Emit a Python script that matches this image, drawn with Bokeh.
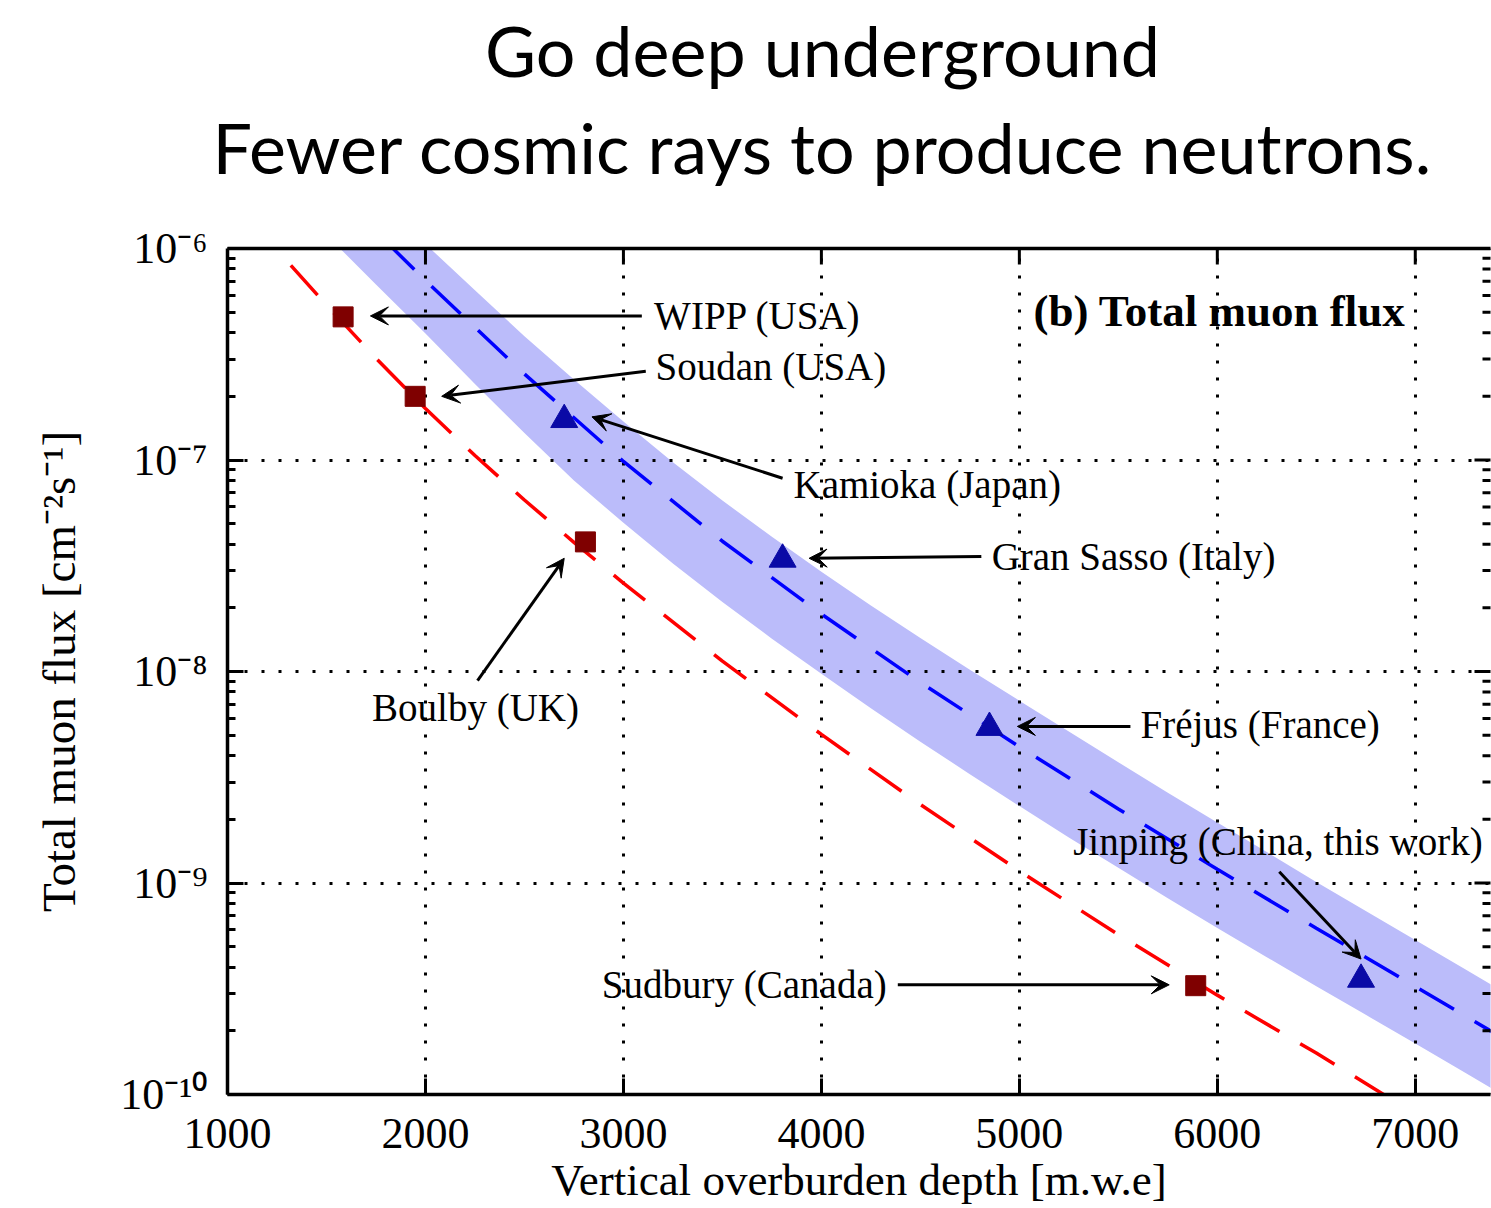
import numpy as np
from bokeh.plotting import figure
from bokeh.layouts import column
from bokeh.models import FixedTicker, LinearAxis, Arrow, VeeHead, Label
from bokeh.embed import file_html
from bokeh.resources import INLINE

# ---------------- data ----------------
# measured sites (red squares)
red_sites = ["WIPP (USA)", "Soudan (USA)", "Boulby (UK)", "Sudbury (Canada)"]
red_depth = [1584, 1948, 2808, 5891]
red_flux = [4.75e-7, 2.0e-7, 4.1e-8, 3.27e-10]

# measured sites (blue triangles)
blue_sites = ["Kamioka (Japan)", "Gran Sasso (Italy)", "Fréjus (France)", "Jinping (China, this work)"]
blue_depth = [2701, 3804, 4849, 6726]
blue_flux = [1.55e-7, 3.39e-8, 5.43e-9, 3.5e-10]

# red dashed curve
red_curve_depth = [1320, 1500, 1750, 2000, 2250, 2500, 2750, 3000, 3500, 4000, 4500, 5000,
                   5500, 6000, 6500, 6840]
red_curve_flux = [8.32e-7, 5.4e-7, 3.03e-7, 1.75e-7, 1.05e-7, 6.47e-8, 4.08e-8, 2.62e-8, 1.12e-8,
                  5.04e-9, 2.35e-9, 1.14e-9, 5.7e-10, 2.95e-10, 1.57e-10, 1.0e-10]

# blue dashed curve
blue_curve_depth = [1800, 2000, 2500, 3000, 3500, 4000, 4500, 5000, 5500, 6000, 6500, 7000, 7400]
blue_curve_flux = [1.08e-6, 7.05e-7, 2.55e-7, 9.84e-8, 4.13e-8, 1.87e-8, 8.87e-9, 4.41e-9,
                   2.24e-9, 1.16e-9, 6.11e-10, 3.24e-10, 1.95e-10]

# shaded band around the blue curve
band_depth = [1500, 1750, 2000, 2250, 2500, 2750, 3000, 3250, 3500, 3750, 4000, 4250, 4500,
              4750, 5000, 5250, 5500, 5750, 6000, 6250, 6500, 6750, 7000, 7250, 7400]
band_upper = [3.08e-6, 1.79e-6, 1.05e-6, 6.34e-7, 3.85e-7, 2.40e-7, 1.52e-7, 9.77e-8, 6.43e-8,
              4.34e-8, 2.96e-8, 2.05e-8, 1.44e-8, 1.02e-8, 7.28e-9, 5.20e-9, 3.72e-9, 2.67e-9,
              1.93e-9, 1.40e-9, 1.01e-9, 7.38e-10, 5.37e-10, 3.92e-10, 3.24e-10]
band_lower = [1.16e-6, 6.75e-7, 3.96e-7, 2.29e-7, 1.34e-7, 8.0e-8, 5.05e-8, 3.24e-8, 2.13e-8,
              1.43e-8, 9.75e-9, 6.71e-9, 4.66e-9, 3.27e-9, 2.31e-9, 1.64e-9, 1.18e-9, 8.47e-10,
              6.12e-10, 4.46e-10, 3.25e-10, 2.38e-10, 1.74e-10, 1.27e-10, 1.05e-10]

# annotation texts and arrows (label anchor, arrow start -> arrow tip)
ann_text = ["WIPP (USA)", "Soudan (USA)", "Kamioka (Japan)", "Gran Sasso (Italy)",
            "Fréjus (France)", "Jinping (China, this work)", "Sudbury (Canada)", "Boulby (UK)"]
ann_x = [3155, 3162, 3859, 4860, 5612, 5272, 4330, 2253]
ann_y = [4.8e-7, 2.77e-7, 7.66e-8, 3.5e-8, 5.6e-9, 1.57e-9, 3.3e-10, 6.76e-9]
ann_align = ["left", "left", "left", "left", "left", "left", "right", "center"]
arrow_x0 = [3093, 3113, 3804, 4808, 5561, 6313, 4386, 2263]
arrow_y0 = [4.8e-7, 2.63e-7, 8.2e-8, 3.5e-8, 5.5e-9, 1.13e-9, 3.3e-10, 9.06e-9]
arrow_x1 = [1722, 2082, 2841, 3938, 4990, 6726, 5757, 2701]
arrow_y1 = [4.8e-7, 2.0e-7, 1.6e-7, 3.43e-8, 5.5e-9, 4.37e-10, 3.3e-10, 3.43e-8]

x_start, x_end = 1000, 7380
y_start, y_end = 1e-10, 1e-6
x_ticks = [1000, 2000, 3000, 4000, 5000, 6000, 7000]
y_ticks = [1e-10, 1e-9, 1e-8, 1e-7, 1e-6]
y_tick_labels = ["10⁻¹⁰", "10⁻⁹", "10⁻⁸", "10⁻⁷", "10⁻⁶"]
y_minor = [m * t for t in [1e-10, 1e-9, 1e-8, 1e-7] for m in range(2, 10)]

title_lines = ["Go deep underground", "Fewer cosmic rays to produce neutrons."]

SERIF = "Liberation Serif"

# ---------------- heading ----------------
head = figure(width=1491, height=208, x_range=(0, 1491), y_range=(0, 208),
              output_backend="svg", toolbar_location=None, min_border=0,
              x_axis_location=None, y_axis_location=None, frame_align=False)
head.outline_line_color = None
head.xgrid.visible = False
head.ygrid.visible = False
for txt, yy in zip(title_lines, [159, 62]):
    head.add_layout(Label(x=822, y=yy, text=txt, text_align="center", text_baseline="alphabetic",
                          text_font="Lato", text_font_size="70px", text_color="black"))

# ---------------- main chart ----------------
p = figure(width=1491, height=1000, x_range=(x_start, x_end), y_range=(y_start, y_end),
           y_axis_type="log", output_backend="svg", toolbar_location=None, frame_align=False,
           min_border_left=227, min_border_right=1, min_border_top=40, min_border_bottom=114)
p.outline_line_color = None
p.background_fill_color = "white"

band = p.varea(x=band_depth, y1=band_lower, y2=band_upper, fill_color="#bbbcfa", fill_alpha=1.0)
band.level = "underlay"

p.line(red_curve_depth, red_curve_flux, line_color="#ff0000", line_width=3.5, line_dash="40 24")
p.line(blue_curve_depth, blue_curve_flux, line_color="#0000ff", line_width=3.5, line_dash="40 24")

p.scatter(red_depth, red_flux, marker="square", size=20, fill_color="#7f0000", line_color="#7f0000")
p.scatter(blue_depth, blue_flux, marker="triangle", size=27, fill_color="#0a0aa6", line_color="#0a0aa6")

xt = FixedTicker(ticks=x_ticks)
yt = FixedTicker(ticks=y_ticks, minor_ticks=y_minor)
for ax in (p.xaxis[0], p.yaxis[0]):
    ax.axis_line_width = 3.5
    ax.major_tick_line_width = 3
    ax.minor_tick_line_width = 3
    ax.major_tick_in = 16
    ax.major_tick_out = 0
    ax.minor_tick_in = 8
    ax.minor_tick_out = 0
    ax.major_label_text_font = SERIF
    ax.major_label_text_font_size = "44px"
    ax.major_label_text_color = "black"
    ax.axis_label_text_font = SERIF
    ax.axis_label_text_font_style = "normal"
    ax.axis_label_text_color = "black"
p.xaxis.axis_label_text_font_size = "45px"
p.yaxis.axis_label_text_font_size = "47px"
p.xaxis.ticker = xt
p.xaxis.minor_tick_line_color = None
p.yaxis.ticker = yt
p.yaxis.major_label_overrides = dict(zip(y_ticks, y_tick_labels))
p.xaxis.axis_label = "Vertical overburden depth [m.w.e]"
p.yaxis.axis_label = "Total muon flux [cm⁻²s⁻¹]"
p.xaxis.major_label_standoff = 24
p.xaxis.axis_label_standoff = 4
p.yaxis.major_label_standoff = 20
p.yaxis.axis_label_standoff = 32

# top border line and inward ticks on top / right sides
top = LinearAxis(ticker=FixedTicker(ticks=[]), axis_line_width=3.5, major_tick_line_color=None,
                 minor_tick_line_color=None)
p.add_layout(top, "above")
p.scatter(x_ticks, [y_end] * len(x_ticks), marker="dash", angle=np.pi / 2, size=32,
          line_color="black", line_width=3)
p.scatter([x_end] * len(y_ticks), y_ticks, marker="dash", size=32, line_color="black", line_width=3)
p.scatter([x_end] * len(y_minor), y_minor, marker="dash", size=16, line_color="black", line_width=3)

for g in (p.xgrid[0], p.ygrid[0]):
    g.grid_line_color = "black"
    g.grid_line_width = 3
    g.grid_line_dash = "3 14"
    g.grid_line_alpha = 1.0

for t, x, y, a in zip(ann_text, ann_x, ann_y, ann_align):
    p.add_layout(Label(x=x, y=y, text=t, text_font=SERIF, text_font_size="39px",
                       text_baseline="middle", text_align=a, text_color="black"))
for x0, y0, x1, y1 in zip(arrow_x0, arrow_y0, arrow_x1, arrow_y1):
    p.add_layout(Arrow(x_start=x0, y_start=y0, x_end=x1, y_end=y1, line_width=3,
                       line_color="black",
                       end=VeeHead(size=18, fill_color="black", line_color="black", line_width=1)))

p.add_layout(Label(x=5071, y=5.04e-7, text="(b) Total muon flux", text_font=SERIF,
                   text_font_size="45px", text_font_style="bold", text_baseline="middle",
                   text_color="black"))

layout = column(head, p, spacing=0)
open("out.html", "w").write(file_html(layout, INLINE))
